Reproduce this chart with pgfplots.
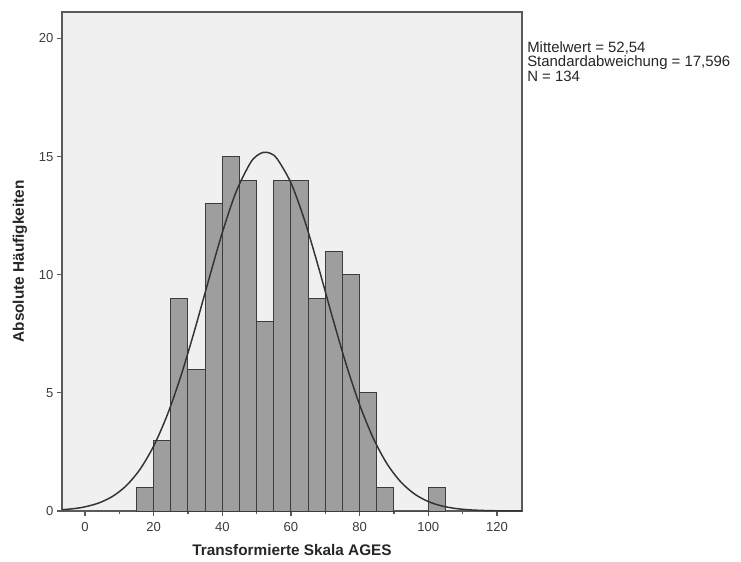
\documentclass[border=0pt]{standalone}
\usepackage{fontspec}
\setmainfont{Liberation Sans}
\usepackage{pgfplots}
\pgfplotsset{compat=1.18}
\definecolor{bgc}{RGB}{240,240,240}
\definecolor{barc}{RGB}{158,158,158}
\definecolor{edgec}{RGB}{60,60,60}
\definecolor{axc}{RGB}{90,90,90}
\definecolor{tickc}{RGB}{60,60,60}
\begin{document}
\begin{tikzpicture}[x=0.75pt,y=0.75pt]
\path[use as bounding box] (0,0) rectangle (741,561);
\begin{axis}[
  at={(62pt*0.75,50pt*0.75)}, anchor=south west,
  scale only axis, width=345pt, height=374.25pt,
  xmin=-6.7, xmax=127.3, ymin=0, ymax=21.12,
  axis background/.style={fill=bgc},
  axis line style={axc, line width=0.9pt},
  xtick={0,20,...,120}, minor xtick={10,30,...,110},
  ytick={0,5,...,20},
  tick align=outside, major tick length=4pt, minor tick length=2pt,
  tick style={axc, line width=0.9pt},
  xtick pos=bottom, ytick pos=left,
  ticklabel style={font=\fontsize{9.8}{11}\selectfont, text=tickc},
  xticklabel style={yshift=-1pt},
  yticklabel style={xshift=1pt},
  /pgf/number format/assume math mode=true,
  xlabel={\textbf{Transformierte Skala AGES}},
  ylabel={\textbf{Absolute Häufigkeiten}},
  label style={font=\fontsize{11.5}{13}\selectfont, text=black!85},
  xlabel style={at={(axis description cs:0.5,0)}, anchor=center, yshift=-29.25pt},
  ylabel style={at={(axis description cs:0,0.5)}, anchor=center, yshift=31.5pt},
  clip=true,
]
\addplot[ybar interval, fill=barc, draw=edgec, line width=0.75pt] coordinates {
(15,1) (20,3) (25,9) (30,6) (35,13) (40,15) (45,14) (50,8) (55,14) (60,14)
(65,9) (70,11) (75,10) (80,5) (85,1) (90,0) (95,0) (100,1) (105,1)
};
\addplot[smooth, draw=black!80, line width=1.1pt] coordinates {
(-7,0.0496) (-3,0.104) (0,0.176) (4,0.338) (8,0.617) (12,1.068) (16,1.759)
(20,2.748) (24,4.077) (28,5.743) (32,7.686) (36,9.766) (40,11.785) (44,13.503)
(48,14.693) (50,15.032) (52,15.183) (54,15.138) (56,14.900) (60,13.884)
(64,12.287) (68,10.327) (72,8.241) (76,6.245) (80,4.495) (84,3.073) (88,1.995)
(92,1.229) (96,0.719) (100,0.400) (104,0.211) (108,0.106) (112,0.0503)
(116,0.0228) (120,0.0098) (124,0.004) (128,0.0015)
};
\end{axis}
\node[anchor=north west, align=left, inner sep=0pt, font=\fontsize{11.2}{8.8}\selectfont, text=black!85] at (527,561-41.5) {Mittelwert = 52,54\\Standardabweichung = 17,596\\N = 134};
\end{tikzpicture}
\end{document}
